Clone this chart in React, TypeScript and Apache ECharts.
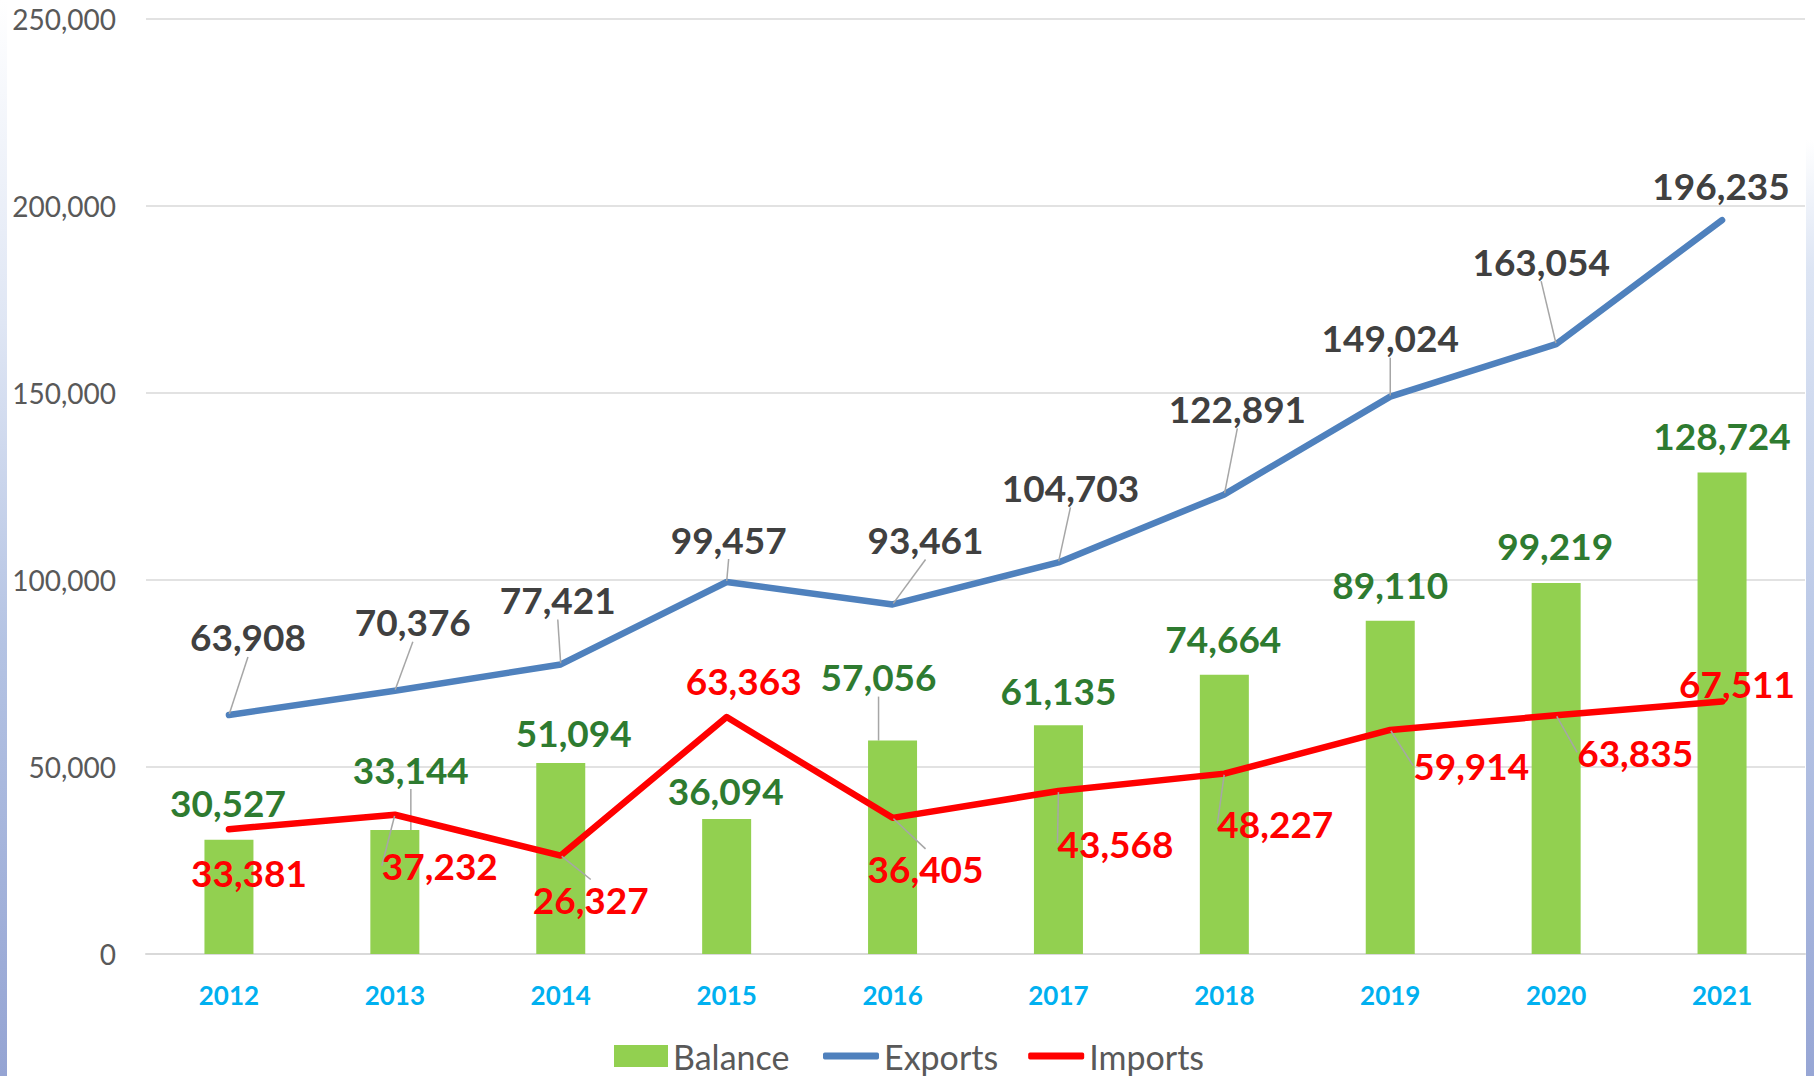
import React, { useEffect, useRef } from "react";
import * as echarts from "echarts";

const years = ["2012", "2013", "2014", "2015", "2016", "2017", "2018", "2019", "2020", "2021"];
const balance = [30527, 33144, 51094, 36094, 57056, 61135, 74664, 89110, 99219, 128724];
const exportsV = [63908, 70376, 77421, 99457, 93461, 104703, 122891, 149024, 163054, 196235];
const importsV = [33381, 37232, 26327, 63363, 36405, 43568, 48227, 59914, 63835, 67511];
const yTicks = { min: 0, max: 250000, interval: 50000 };

// label offsets (layout only)
const expOff = [[19, -78], [18, -69], [-3, -65], [2, -43], [33, -65], [12, -75], [13, -86], [0, -59], [-15, -83], [-1, -35]];
const expLine = [1, 1, 1, 1, 1, 1, 1, 1, 1, 0];
const impOff = [[20, 43], [45, 51], [30, 44], [17, -37], [33, 51], [57, 52], [51, 50], [81, 36], [79, 37], [15, -18]];
const impLine = [0, 1, 1, 0, 1, 1, 1, 1, 1, 0];
const balOff = [[-1, -17], [16, -41], [13, -10], [-1, -9], [-14, -44], [0, -15], [-1, -16], [0, -16], [-1, -17], [0, -17]];
const balLine = [0, 1, 0, 0, 1, 0, 0, 0, 0, 0];

const FONT = "Lato";
const fmt = (v: number) => v.toLocaleString("en-US");
const leader = { lineStyle: { color: "#A6A6A6", width: 1.5 }, length: 0, length2: 0, smooth: false };

function items(vals: number[], lines: number[]) {
  return vals.map((v, i) => ({ value: v, labelLine: { show: !!lines[i], ...leader } }));
}

export default function App() {
  const ref = useRef<HTMLDivElement>(null);
  useEffect(() => {
    if (!ref.current) return;
    const chart = echarts.init(ref.current, undefined, { renderer: "svg" });
    const labelBase = {
      show: true,
      fontFamily: FONT,
      fontWeight: "bold" as const,
      fontSize: 37,
      lineHeight: 40,
      formatter: (p: any) => fmt(p.value),
    };
    chart.setOption({
      animation: false,
      backgroundColor: "#ffffff",
      graphic: [
        {
          type: "rect",
          left: 0,
          top: 0,
          shape: { width: 7, height: 1076 },
          style: {
            fill: new echarts.graphic.LinearGradient(0, 0, 0, 1, [
              { offset: 0, color: "#ffffff" },
              { offset: 0.3, color: "#dfe6f4" },
              { offset: 0.6, color: "#b4c3e3" },
              { offset: 1, color: "#95a4d3" },
            ]),
          },
          silent: true,
        },
        {
          type: "rect",
          left: 1806,
          top: 0,
          shape: { width: 8, height: 1076 },
          style: {
            fill: new echarts.graphic.LinearGradient(0, 0, 0, 1, [
              { offset: 0, color: "#ffffff" },
              { offset: 0.13, color: "#ffffff" },
              { offset: 0.25, color: "#dde5f4" },
              { offset: 0.6, color: "#b9c7e6" },
              { offset: 1, color: "#97a6d5" },
            ]),
          },
          silent: true,
        },
      ],
      grid: { left: 146, right: 9, top: 19, bottom: 122, containLabel: false },
      legend: [
        {
          data: [{ name: "Balance", icon: "rect" }],
          left: 614,
          top: 1036,
          padding: 0,
          itemWidth: 54,
          itemHeight: 22,
          itemGap: 30,
          textStyle: { fontFamily: FONT, fontSize: 34, color: "#595959", lineHeight: 40 },
        },
        {
          data: [
            { name: "Exports", icon: "roundRect" },
            { name: "Imports", icon: "roundRect" },
          ],
          left: 823,
          top: 1036,
          padding: 0,
          itemWidth: 56,
          itemHeight: 7,
          itemGap: 30,
          textStyle: { fontFamily: FONT, fontSize: 34, color: "#595959", lineHeight: 40 },
        },
      ],
      xAxis: {
        type: "category",
        data: years,
        axisLine: { show: true, lineStyle: { color: "#D9D9D9", width: 2 } },
        axisTick: { show: false },
        axisLabel: { color: "#00B0F0", fontFamily: FONT, fontWeight: "bold", fontSize: 26, margin: 28 },
      },
      yAxis: {
        type: "value",
        min: yTicks.min,
        max: yTicks.max,
        interval: yTicks.interval,
        axisLine: { show: false },
        axisTick: { show: false },
        splitLine: { lineStyle: { color: "#D9D9D9", width: 1.5 } },
        axisLabel: { color: "#595959", fontFamily: FONT, fontSize: 28, margin: 30, formatter: (v: number) => fmt(v) },
      },
      series: [
        {
          name: "Balance",
          type: "bar",
          data: items(balance, balLine),
          barWidth: 49,
          itemStyle: { color: "#92D050" },
          z: 1,
          label: { ...labelBase, position: "top", distance: 0, color: "#2E7B30" },
          labelLayout: (p: any) => ({ dx: balOff[p.dataIndex][0], dy: balOff[p.dataIndex][1] }),
        },
        {
          name: "Exports",
          type: "line",
          data: items(exportsV, expLine),
          symbol: "circle",
          symbolSize: 2,
          showSymbol: true,
          lineStyle: { color: "#4F81BD", width: 6.5, cap: "round", join: "round" },
          itemStyle: { color: "#4F81BD" },
          z: 3,
          label: { ...labelBase, position: "inside", color: "#404040" },
          labelLayout: (p: any) => ({ dx: expOff[p.dataIndex][0], dy: expOff[p.dataIndex][1] }),
        },
        {
          name: "Imports",
          type: "line",
          data: items(importsV, impLine),
          symbol: "circle",
          symbolSize: 2,
          showSymbol: true,
          lineStyle: { color: "#FF0000", width: 6.5, cap: "round", join: "round" },
          itemStyle: { color: "#FF0000" },
          z: 3,
          label: { ...labelBase, position: "inside", color: "#FF0000" },
          labelLayout: (p: any) => ({ dx: impOff[p.dataIndex][0], dy: impOff[p.dataIndex][1] }),
        },
      ],
    });
    return () => chart.dispose();
  }, []);
  return (
    <div
      ref={ref}
      style={{ position: "fixed", left: 0, top: 0, width: 1814, height: 1076, background: "#fff" }}
    />
  );
}
